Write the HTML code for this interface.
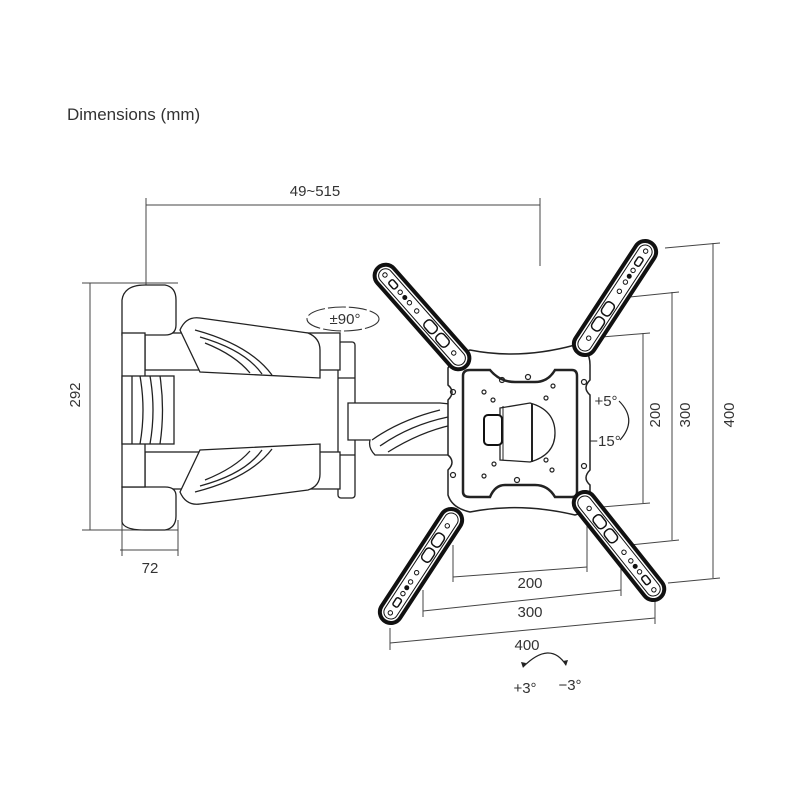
<!DOCTYPE html>
<html><head><meta charset="utf-8"><style>
html,body{margin:0;padding:0;background:#fff;width:800px;height:800px;overflow:hidden}
svg{display:block}
text{font-family:"Liberation Sans",sans-serif;fill:#333}
</style></head><body>
<svg width="800" height="800" viewBox="0 0 800 800" xmlns="http://www.w3.org/2000/svg">
<defs>
<g id="arm">
<rect x="-66" y="-11" width="132" height="22" rx="11" fill="#fff" stroke="#111" stroke-width="4"/>
<rect x="-62" y="-7" width="124" height="14" rx="7" fill="none" stroke="#111" stroke-width="1"/>
<circle cx="-56" cy="0" r="2.2" fill="none" stroke="#111"/>
<rect x="-48" y="-3" width="9" height="6" rx="2" fill="none" stroke="#111" stroke-width="1.5"/>
<circle cx="-33" cy="0" r="2.2" fill="none" stroke="#111"/>
<circle cx="-26" cy="0" r="2.5" fill="#111"/>
<circle cx="-19" cy="0" r="2.2" fill="none" stroke="#111"/>
<circle cx="-8" cy="0" r="2.2" fill="none" stroke="#111"/>
<rect x="6" y="-5" width="14" height="10" rx="4" fill="none" stroke="#111" stroke-width="1.5"/>
<rect x="24" y="-5" width="14" height="10" rx="4" fill="none" stroke="#111" stroke-width="1.5"/>
<circle cx="48" cy="0" r="2.2" fill="none" stroke="#111"/>
</g>
</defs>
<text x="67" y="120" font-size="17">Dimensions (mm)</text>

<g stroke="#444" stroke-width="1" fill="none">
<!-- 49~515 -->
<line x1="146" y1="205" x2="540" y2="205"/>
<line x1="146" y1="198" x2="146" y2="285"/>
<line x1="540" y1="198" x2="540" y2="266"/>
<!-- 292 -->
<line x1="90" y1="283" x2="90" y2="530"/>
<line x1="82" y1="283" x2="178" y2="283"/>
<line x1="82" y1="530" x2="178" y2="530"/>
<!-- 72 -->
<line x1="120" y1="550" x2="178" y2="550"/>
<line x1="122" y1="520" x2="122" y2="556"/>
<line x1="178" y1="520" x2="178" y2="556"/>
<!-- right -->
<line x1="643" y1="333" x2="643" y2="503"/>
<line x1="590" y1="338" x2="650" y2="333"/>
<line x1="590" y1="508" x2="650" y2="503"/>
<line x1="672" y1="292" x2="672" y2="540"/>
<line x1="620" y1="298" x2="679" y2="292"/>
<line x1="620" y1="546" x2="679" y2="540"/>
<line x1="713" y1="243" x2="713" y2="578"/>
<line x1="665" y1="248" x2="720" y2="243"/>
<line x1="668" y1="583" x2="720" y2="578"/>
<!-- bottom -->
<line x1="453" y1="577" x2="587" y2="567"/>
<line x1="453" y1="545" x2="453" y2="582"/>
<line x1="587" y1="508" x2="587" y2="572"/>
<line x1="423" y1="611" x2="621" y2="590"/>
<line x1="423" y1="590" x2="423" y2="617"/>
<line x1="621" y1="555" x2="621" y2="596"/>
<line x1="390" y1="643" x2="655" y2="618"/>
<line x1="390" y1="628" x2="390" y2="650"/>
<line x1="655" y1="600" x2="655" y2="624"/>
</g>
<text x="315" y="196" font-size="15" text-anchor="middle">49~515</text>
<text transform="translate(80,395) rotate(-90)" font-size="15" text-anchor="middle">292</text>
<text x="150" y="573" font-size="15" text-anchor="middle">72</text>
<text transform="translate(660,415) rotate(-90)" font-size="15" text-anchor="middle">200</text>
<text transform="translate(690,415) rotate(-90)" font-size="15" text-anchor="middle">300</text>
<text transform="translate(734,415) rotate(-90)" font-size="15" text-anchor="middle">400</text>
<text x="530" y="588" font-size="15" text-anchor="middle">200</text>
<text x="530" y="617" font-size="15" text-anchor="middle">300</text>
<text x="527" y="650" font-size="15" text-anchor="middle">400</text>
<text x="525" y="693" font-size="15" text-anchor="middle">+3°</text>
<text x="570" y="690" font-size="15" text-anchor="middle">−3°</text>
<path d="M523 667 Q550 640 566 665" fill="none" stroke="#222" stroke-width="1.2"/>
<path d="M521 662 l2 6 l3 -5z M568 660 l-2 6 l-3 -5z" fill="#222"/>
<text x="606" y="406" font-size="15" text-anchor="middle">+5°</text>
<text x="605" y="446" font-size="15" text-anchor="middle">−15°</text>
<path d="M619 401 Q638 420 620 440" fill="none" stroke="#222" stroke-width="1.2"/>
<text x="345" y="324" font-size="15" text-anchor="middle">±90°</text>
<ellipse cx="343" cy="319" rx="36" ry="12" fill="none" stroke="#333" stroke-dasharray="18 3" stroke-width="1.1"/>

<!-- left mechanism -->
<g fill="#fff" stroke="#222" stroke-width="1.3">
<rect x="338" y="342" width="17" height="156" rx="3"/>
<line x1="338" y1="378" x2="355" y2="378"/><line x1="338" y1="455" x2="355" y2="455"/>
<rect x="145" y="333" width="195" height="37"/>
<rect x="145" y="452" width="195" height="37"/>
<path d="M180 330 Q186 316 200 318 L308 333 Q320 338 320 350 L320 378 L200 372 Z"/>
<path d="M180 492 Q186 506 200 504 L308 490 Q320 486 320 474 L320 444 L200 450 Z"/>
<path d="M195 330 Q250 345 272 375 M200 337 Q245 350 262 374 M205 343 Q235 355 250 373" fill="none"/>
<path d="M195 492 Q250 478 272 449 M200 486 Q245 474 262 450 M205 480 Q235 468 250 451" fill="none"/>
<path d="M122 300 Q124 285 145 285 L165 285 Q176 287 176 300 L176 325 Q176 335 165 335 L122 335 Z"/>
<path d="M122 522 Q124 530 145 530 L165 530 Q176 528 176 516 L176 496 Q176 487 165 487 L122 487 Z"/>
<rect x="122" y="333" width="23" height="154"/>
<rect x="122" y="376" width="52" height="68"/>
<path d="M132 376 L132 444 M140 376 Q146 410 140 444 M150 376 Q156 410 150 444 M160 376 Q165 410 160 444" fill="none"/>
<path d="M348 403 L440 403 L460 405 L460 455 L375 455 Q368 448 370 440 L348 440 Z"/>
<path d="M372 440 Q400 420 440 410 M380 446 Q410 425 448 417 M388 452 Q420 432 452 425" fill="none"/>
</g>

<!-- plate -->
<path d="M448 368 Q455 355 470 350 Q520 360 575 345 Q590 348 590 365 L590 380 Q582 388 590 395 L590 470 Q582 478 590 485 L590 500 Q588 512 575 515 Q520 502 470 512 Q452 508 448 495 L448 470 Q456 462 448 455 L448 400 Q456 392 448 385 Z" fill="#fff" stroke="#222" stroke-width="1.5"/>
<path d="M463 376 Q463 370 470 370 L490 370 Q500 382 515 382 L535 382 Q548 382 555 370 L572 370 Q577 370 577 376 L577 492 Q577 497 572 497 L555 497 Q548 485 535 485 L505 485 Q495 485 490 497 L470 497 Q463 497 463 492 Z" fill="#fff" stroke="#222" stroke-width="2.5"/>
<path d="M500 408 L530 403 Q555 410 555 433 Q555 455 530 462 L500 460 Z" fill="#fff" stroke="#222" stroke-width="1.3"/>
<rect x="484" y="415" width="18" height="30" rx="4" fill="#fff" stroke="#111" stroke-width="2"/>
<line x1="503" y1="406" x2="503" y2="460" stroke="#222"/>
<line x1="532" y1="404" x2="532" y2="462" stroke="#222" stroke-width="2"/>
<g fill="none" stroke="#222" stroke-width="1.2">
<circle cx="502" cy="380" r="2.5"/><circle cx="528" cy="377" r="2.5"/><circle cx="484" cy="392" r="2"/><circle cx="553" cy="386" r="2"/>
<circle cx="546" cy="398" r="2"/><circle cx="493" cy="400" r="2"/><circle cx="494" cy="464" r="2"/><circle cx="546" cy="460" r="2"/>
<circle cx="484" cy="476" r="2"/><circle cx="552" cy="470" r="2"/><circle cx="517" cy="480" r="2.5"/>
<circle cx="453" cy="392" r="2.5"/><circle cx="453" cy="475" r="2.5"/><circle cx="584" cy="382" r="2.5"/><circle cx="584" cy="466" r="2.5"/>
</g>
<use href="#arm" transform="translate(422,317) rotate(48.6)"/>
<use href="#arm" transform="translate(615,298) rotate(-56.8) scale(-1,1)"/>
<use href="#arm" transform="translate(421,566) rotate(-56.8)"/>
<use href="#arm" transform="translate(619,546) rotate(51.5) scale(-1,1)"/>
</svg>
</body></html>
